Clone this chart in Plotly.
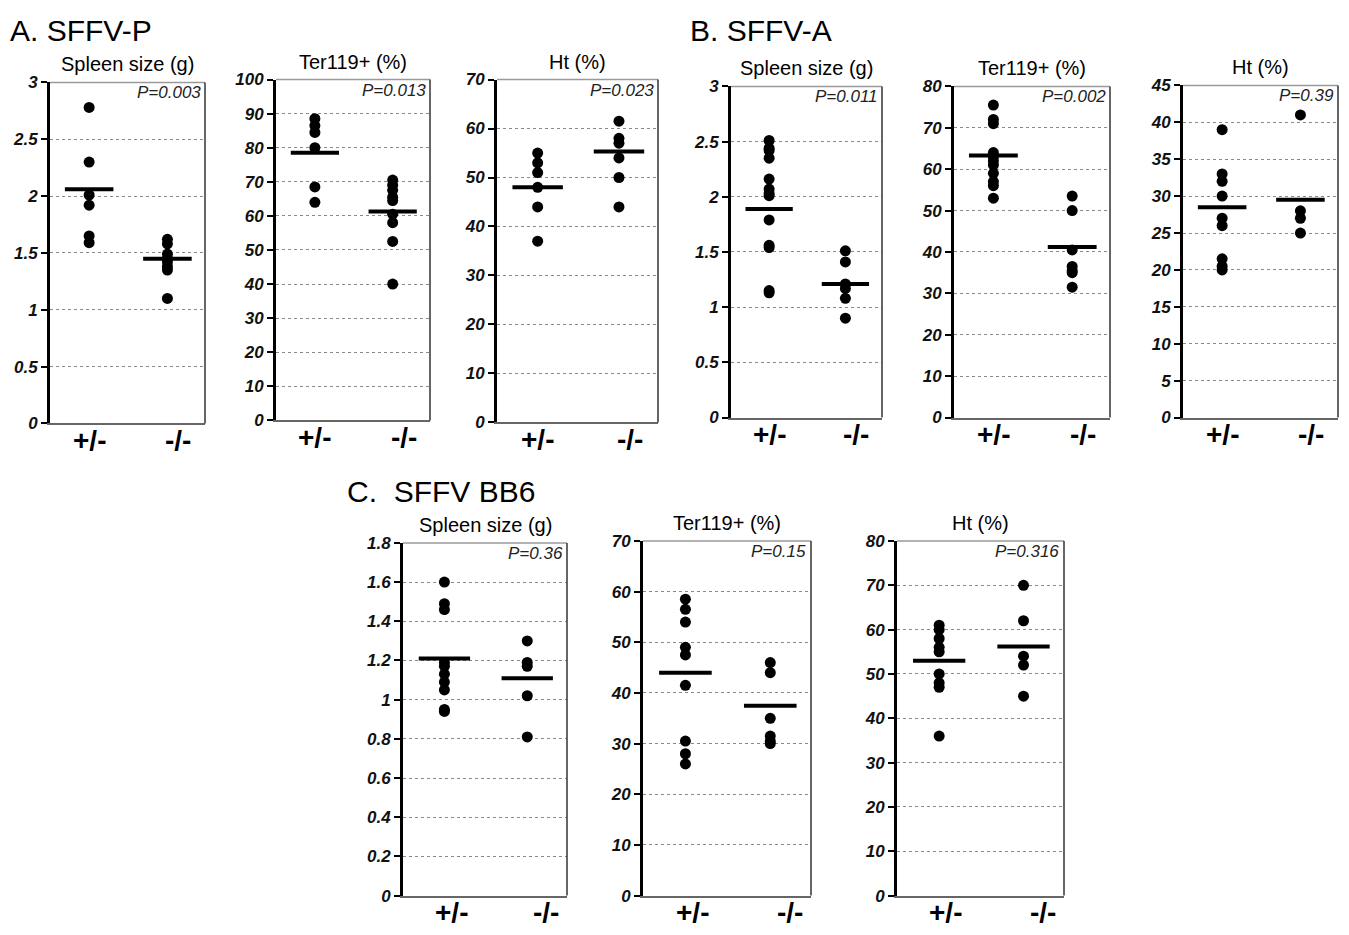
import plotly.graph_objects as go

# ---------------- data ----------------
groups = ["+/-", "-/-"]

panel_titles = ["A. SFFV-P", "B. SFFV-A", "C.\u00a0\u00a0SFFV BB6"]
sub_titles = ["Spleen size (g)", "Ter119+ (%)", "Ht (%)",
              "Spleen size (g)", "Ter119+ (%)", "Ht (%)",
              "Spleen size (g)", "Ter119+ (%)", "Ht (%)"]
p_values = ["P=0.003", "P=0.013", "P=0.023",
            "P=0.011", "P=0.002", "P=0.39",
            "P=0.36", "P=0.15", "P=0.316"]

# SFFV-P
a_spleen_het = [2.78, 2.30, 2.01, 1.92, 1.65, 1.59]
a_spleen_ko = [1.62, 1.58, 1.49, 1.45, 1.42, 1.38, 1.35, 1.10]
a_ter_het = [88.5, 86.5, 84.5, 80, 68.5, 64]
a_ter_ko = [70.5, 69, 67.5, 65.5, 64.5, 60.5, 58, 52.5, 40]
a_ht_het = [55, 53, 51, 48, 44, 37]
a_ht_ko = [61.5, 58, 57, 54, 50, 44]
# SFFV-A
b_spleen_het = [2.51, 2.44, 2.42, 2.35, 2.16, 2.07, 2.03, 2.01, 1.79, 1.56, 1.54, 1.15, 1.13]
b_spleen_ko = [1.51, 1.41, 1.21, 1.17, 1.08, 0.90]
b_ter_het = [75.5, 72, 71, 64, 63, 62, 61, 59, 57, 56, 53]
b_ter_ko = [53.5, 50, 40.5, 36.5, 35.5, 35, 31.5]
b_ht_het = [39, 33, 32, 30, 27, 26, 21.5, 20.5, 20]
b_ht_ko = [41, 28, 27, 25]
# SFFV BB6
c_spleen_het = [1.60, 1.49, 1.46, 1.19, 1.17, 1.13, 1.09, 1.05, 0.95, 0.94]
c_spleen_ko = [1.30, 1.19, 1.17, 1.02, 0.81]
c_ter_het = [58.5, 56.5, 54, 49, 47.5, 41.5, 30.5, 28, 26]
c_ter_ko = [46, 44, 35, 31.5, 30.5, 30]
c_ht_het = [61, 60, 58, 56, 55, 50, 48, 47, 36]
c_ht_ko = [70, 62, 54, 52, 45]

# mean bars (het, ko)
a_means = [(2.06, 1.45), (78.5, 61.3), (48.0, 55.3)]
b_means = [(1.89, 1.21), (63.3, 41.2), (28.5, 29.5)]
c_means = [(1.21, 1.11), (44.0, 37.5), (53.0, 56.2)]

y_max = [3, 100, 70, 3, 80, 45, 1.8, 70, 80]
y_dtick = [0.5, 10, 10, 0.5, 10, 5, 0.2, 10, 10]

het_data = [a_spleen_het, a_ter_het, a_ht_het, b_spleen_het, b_ter_het, b_ht_het,
            c_spleen_het, c_ter_het, c_ht_het]
ko_data = [a_spleen_ko, a_ter_ko, a_ht_ko, b_spleen_ko, b_ter_ko, b_ht_ko,
           c_spleen_ko, c_ter_ko, c_ht_ko]
means = a_means + b_means + c_means

# ---------------- layout (pixel boxes: left, right, top, bottom) ----------------
W, H = 1349, 935
boxes = [(50, 205, 75, 423), (276, 430, 72, 420), (497, 658, 72, 422),
         (731, 882, 79, 417), (954, 1110, 79, 417), (1183, 1338, 78, 417),
         (403, 567, 545, 905), (643, 811, 543, 905), (897, 1064, 543, 905)]
label_x_rows = [[1.0, 2.14]] * 6 + [[1.08, 2.23]] * 3

FONT = "Liberation Sans, Arial, sans-serif"
fig = go.Figure()
annotations = []
shapes = []
layout = {}

for i in range(9):
    n = "" if i == 0 else str(i + 1)
    xa, ya = "x" + n, "y" + n
    l, r, t, b = boxes[i]
    layout["xaxis" + n] = dict(
        domain=[l / W, r / W], range=[0.5, 2.48], anchor=ya,
        showticklabels=False, showgrid=False, zeroline=False,
        showline=True, linecolor="#666666", linewidth=2, ticks="",
        fixedrange=True)
    layout["yaxis" + n] = dict(
        domain=[1 - b / H, 1 - t / H], range=[0, y_max[i]], anchor=xa,
        dtick=y_dtick[i], tick0=0, showgrid=True, gridcolor="#8a8a8a",
        griddash="dot", gridwidth=1, zeroline=False, showline=True,
        linecolor="black", linewidth=3, ticks="outside", ticklen=6,
        tickwidth=2, tickcolor="black",
        tickfont=dict(family=FONT, size=17, color="#111111", weight="bold", style="italic"),
        fixedrange=True)
    # gray frame (top and right)
    shapes.append(dict(type="line", xref=xa + " domain", yref=ya + " domain",
                       x0=0, x1=1, y0=1, y1=1, line=dict(color="#9a9a9a", width=1.5)))
    shapes.append(dict(type="line", xref=xa + " domain", yref=ya + " domain",
                       x0=1, x1=1, y0=0, y1=1, line=dict(color="#333333", width=1.5)))
    # points and mean bars
    for gi, vals in enumerate([het_data[i], ko_data[i]]):
        fig.add_trace(go.Scatter(
            x=[gi + 1] * len(vals), y=vals, mode="markers", xaxis=xa, yaxis=ya,
            marker=dict(color="black", size=11), showlegend=False, hoverinfo="y"))
        m = means[i][gi]
        fig.add_trace(go.Scatter(
            x=[gi + 1 - 0.31, gi + 1 + 0.31], y=[m, m], mode="lines", xaxis=xa, yaxis=ya,
            line=dict(color="black", width=4), showlegend=False, hoverinfo="skip"))
        # group label under the axis
        annotations.append(dict(text="<b>" + groups[gi] + "</b>", xref=xa, yref=ya + " domain",
                                x=label_x_rows[i][gi], y=0, yanchor="middle", xanchor="center",
                                yshift=-17, showarrow=False,
                                font=dict(family=FONT, size=28, color="black")))
    # subplot title
    annotations.append(dict(text=sub_titles[i], xref=xa + " domain", yref=ya + " domain",
                            x=0.5, y=1, yanchor="bottom", xanchor="center", yshift=5,
                            showarrow=False,
                            font=dict(family=FONT, size=20, color="black")))
    # p-value
    annotations.append(dict(text=p_values[i], xref=xa + " domain", yref=ya + " domain",
                            x=0.985, y=1, yanchor="top", xanchor="right", yshift=1,
                            showarrow=False,
                            font=dict(family=FONT, size=17, color="#222222", style="italic")))

panel_pos = [(8, 22), (688, 22), (345, 493)]
for txt, (px, py) in zip(panel_titles, panel_pos):
    annotations.append(dict(text=txt, xref="paper", yref="paper", x=px / W, y=1 - py / H,
                            xanchor="left", yanchor="middle", showarrow=False,
                            font=dict(family=FONT, size=30, color="black")))

fig.update_layout(width=W, height=H, margin=dict(l=0, r=0, t=0, b=0),
                  plot_bgcolor="white", paper_bgcolor="white",
                  annotations=annotations, shapes=shapes, **layout)

fig.write_html("out.html")
